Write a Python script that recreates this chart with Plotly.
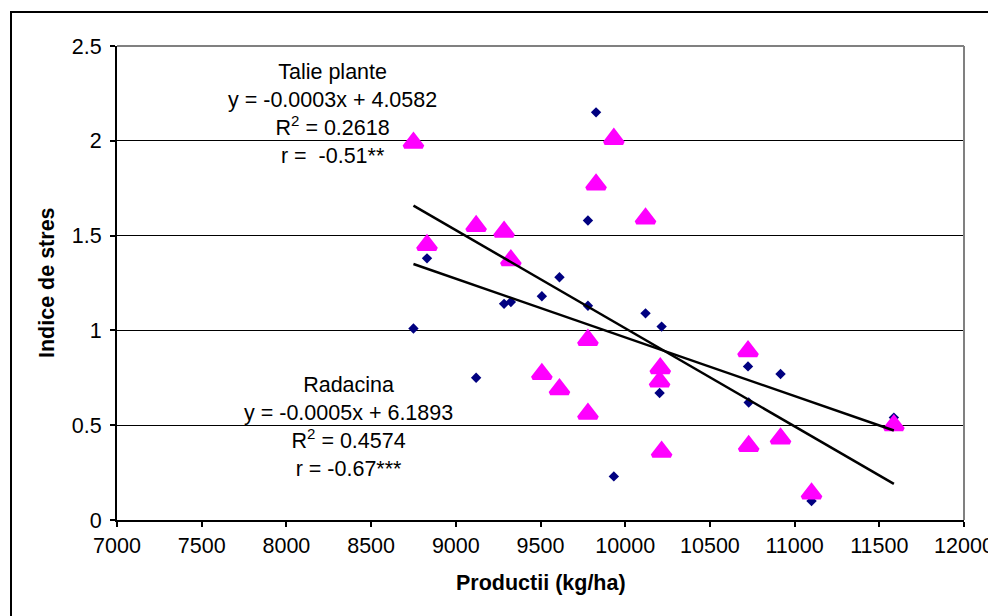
import numpy as np
import plotly.graph_objects as go

# ---- data ----
productii = [8750, 8830, 9120, 9285, 9325, 9508, 9612, 9780, 9780, 9828,
             9933, 10120, 10203, 10207, 10215, 10725, 10729, 10917, 11100, 11586]
talie_plante = [1.01, 1.38, 0.75, 1.14, 1.15, 1.18, 1.28, 1.58, 1.13, 2.15,
                0.23, 1.09, 0.67, 0.80, 1.02, 0.81, 0.62, 0.77, 0.10, 0.54]
radacina = [1.99, 1.45, 1.55, 1.52, 1.37, 0.77, 0.69, 0.95, 0.56, 1.77,
            2.01, 1.59, 0.73, 0.80, 0.36, 0.89, 0.39, 0.43, 0.14, 0.50]

x_ticks = [7000, 7500, 8000, 8500, 9000, 9500, 10000, 10500, 11000, 11500, 12000]
y_ticks = [0, 0.5, 1, 1.5, 2, 2.5]

talie_label = "Talie plante<br>y = -0.0003x + 4.0582<br>R<sup>2</sup> = 0.2618<br>r =  -0.51**"
radacina_label = "Radacina<br>y = -0.0005x + 6.1893<br>R<sup>2</sup> = 0.4574<br>r = -0.67***"

FONT = "Liberation Sans, Arial, sans-serif"

x = np.array(productii, dtype=float)
xs = np.array([x.min(), x.max()])
p_t = np.polyfit(x, np.array(talie_plante), 1)
p_r = np.polyfit(x, np.array(radacina), 1)

fig = go.Figure()
fig.add_trace(go.Scatter(x=productii, y=talie_plante, mode="markers",
                         marker=dict(symbol="diamond", size=8, color="#000080"),
                         name="Talie plante"))
fig.add_trace(go.Scatter(x=productii, y=radacina, mode="markers",
                         marker=dict(symbol="triangle-up", size=16, color="#FF00FF",
                                     line=dict(color="#FF00FF", width=4)),
                         name="Radacina"))
fig.add_trace(go.Scatter(x=xs, y=np.polyval(p_t, xs), mode="lines",
                         line=dict(color="black", width=2.5), name="trend talie"))
fig.add_trace(go.Scatter(x=xs, y=np.polyval(p_r, xs), mode="lines",
                         line=dict(color="black", width=2.5), name="trend radacina"))

# page body has an 8px margin, so figure coords = screen coords - 8
OFF = 8
W, H = 996 - OFF, 616 - OFF
pw, ph = 847, 474
L, T = 117 - OFF, 46 - OFF
R, B = W - L - pw, H - T - ph

fig.update_layout(
    width=W, height=H,
    margin=dict(l=L, r=R, t=T, b=B, autoexpand=False),
    paper_bgcolor="white", plot_bgcolor="white",
    showlegend=False,
    font=dict(family=FONT, size=22, color="black"),
    xaxis=dict(range=[7000, 12000], tickvals=x_ticks, tickformat="d",
               automargin=False,
               showgrid=False, zeroline=False,
               showline=True, linecolor="black", linewidth=2,
               ticks="outside", ticklen=5, tickwidth=1.5, tickcolor="black",
               tickfont=dict(size=21.5)),
    yaxis=dict(range=[0, 2.5], tickvals=y_ticks, automargin=False,
               showgrid=True, gridcolor="black", gridwidth=1, zeroline=False,
               showline=True, linecolor="black", linewidth=2,
               ticks="outside", ticklen=5, tickwidth=1.5, tickcolor="black",
               tickfont=dict(size=21.5), ticklabelstandoff=4),
)

# gray plot-area border on top and right
fig.add_shape(type="line", xref="x domain", yref="y domain", x0=0, x1=1, y0=1, y1=1,
              line=dict(color="#808080", width=2), layer="above")
fig.add_shape(type="line", xref="x domain", yref="y domain", x0=1, x1=1, y0=0, y1=1,
              line=dict(color="#808080", width=2), layer="above")
# outer chart border (screen x=11, y=12; extends past right and bottom edges)
fig.add_shape(type="rect", xref="paper", yref="paper",
              x0=(11 - OFF - L) / pw, x1=(W + 20 - L) / pw,
              y0=-(H + 20 - (T + ph)) / ph, y1=1 + (T - (12 - OFF)) / ph,
              line=dict(color="black", width=2), layer="above")

# axis titles
fig.add_annotation(text="<b>Productii (kg/ha)</b>", xref="paper", yref="paper",
                   x=0.5, y=-(583 - OFF - (T + ph)) / ph, showarrow=False,
                   xanchor="center", yanchor="middle", font=dict(size=21.5))
fig.add_annotation(text="<b>Indice de stres</b>", xref="paper", yref="paper",
                   x=(47 - OFF - L) / pw, y=0.5, showarrow=False, textangle=-90,
                   xanchor="center", yanchor="middle", font=dict(size=21.5))

# regression labels
fig.add_annotation(text=talie_label, xref="x", yref="y", x=8270, y=2.14,
                   showarrow=False, align="center", font=dict(size=21.5))
fig.add_annotation(text=radacina_label, xref="x", yref="y", x=8365, y=0.49,
                   showarrow=False, align="center", font=dict(size=21.5))

fig.write_html("out.html")
